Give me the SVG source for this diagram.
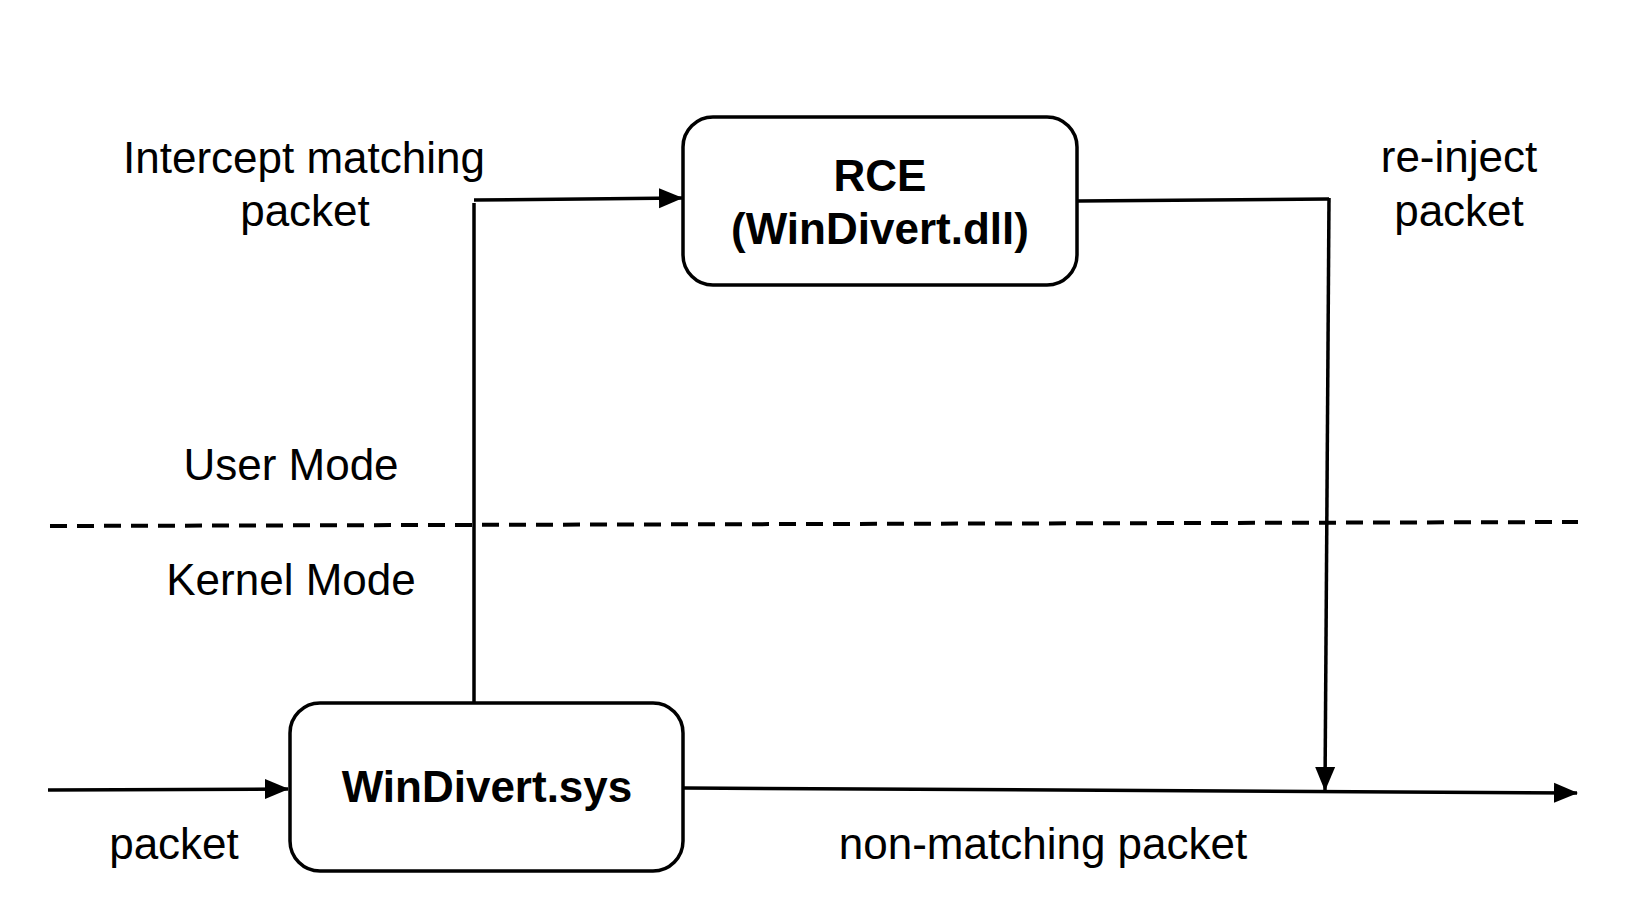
<svg xmlns="http://www.w3.org/2000/svg" width="1626" height="920" viewBox="0 0 1626 920">
<style>
.box{fill:#fff;stroke:#000;stroke-width:3.5}
.ln{fill:none;stroke:#000;stroke-width:3.5}
.dash{fill:none;stroke:#000;stroke-width:4;stroke-dasharray:17 10}
.lbl{font-family:"Liberation Sans",Arial,sans-serif;font-size:44px;fill:#000;text-anchor:middle}
.bold{font-weight:bold}
</style>
<defs>
<marker id="arrow" markerWidth="24" markerHeight="22" refX="23" refY="11" orient="auto" markerUnits="userSpaceOnUse">
<path d="M0,1 L24,11 L0,21 Z" fill="#000"/>
</marker>
</defs>
<rect width="1626" height="920" fill="#fff"/>
<g id="connectors">
<line class="dash" x1="50" y1="526" x2="1578" y2="522"/>
<line class="ln" x1="48" y1="790" x2="288" y2="789" marker-end="url(#arrow)"/>
<line class="ln" x1="474" y1="702" x2="474" y2="203"/>
<line class="ln" x1="474" y1="200" x2="682" y2="198" marker-end="url(#arrow)"/>
<line class="ln" x1="1078" y1="201" x2="1329" y2="199"/>
<line class="ln" x1="1329" y1="198" x2="1325" y2="790" marker-end="url(#arrow)"/>
<line class="ln" x1="684" y1="788" x2="1577" y2="793" marker-end="url(#arrow)"/>
</g>
<g id="rce">
<rect class="box" x="683" y="117" width="394" height="168" rx="30" ry="30"/>
<text class="lbl bold" x="880" y="191">RCE</text>
<text class="lbl bold" x="880" y="244">(WinDivert.dll)</text>
</g>
<g id="windivert-sys">
<rect class="box" x="290" y="703" width="393" height="168" rx="30" ry="30"/>
<text class="lbl bold" x="487" y="802">WinDivert.sys</text>
</g>
<g id="labels">
<text class="lbl" x="304" y="173">Intercept matching</text>
<text class="lbl" x="305" y="226">packet</text>
<text class="lbl" x="1459" y="172">re-inject</text>
<text class="lbl" x="1459" y="226">packet</text>
<text class="lbl" x="291" y="480">User Mode</text>
<text class="lbl" x="291" y="595">Kernel Mode</text>
<text class="lbl" x="174" y="859">packet</text>
<text class="lbl" x="1043" y="859">non-matching packet</text>
</g>
</svg>
